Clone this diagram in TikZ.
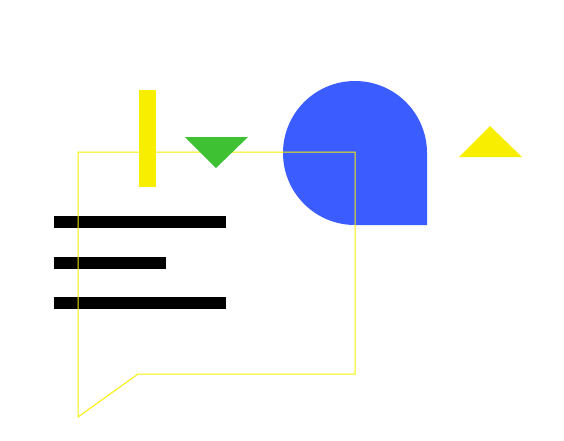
\documentclass[tikz,border=0pt]{standalone}
\usepackage{tikz}
\usetikzlibrary{positioning, calc}
\usepackage{xcolor}

\definecolor{barYellow}{HTML}{F8EF00}
\definecolor{leafGreen}{HTML}{3EC233}
\definecolor{dropBlue}{HTML}{3B5CFF}

\begin{document}
\begin{tikzpicture}[x=0.05cm, y=-0.05cm]
    \useasboundingbox (0, 0) rectangle (564, 440);

    \fill[barYellow] (139, 90) rectangle (156, 187);
    \fill[barYellow] (459, 157) -- (522, 157) -- (490, 126) -- cycle;

    \fill[dropBlue] (427, 153) arc[start angle=0, end angle=-270, radius=72] -- (427, 225) -- cycle;

    \fill[black] (54, 216) rectangle (226, 228);
    \fill[black] (54, 257) rectangle (166, 269);
    \fill[black] (54, 297) rectangle (226, 309);

    \draw[barYellow, line width=0.05cm, line join=miter] (78, 152) -- (355, 152) -- (355, 374) -- (138, 374) -- (78, 417) -- cycle;

    \fill[leafGreen] (185, 137) -- (248, 137) -- (216, 168) -- cycle;
\end{tikzpicture}
\end{document}
